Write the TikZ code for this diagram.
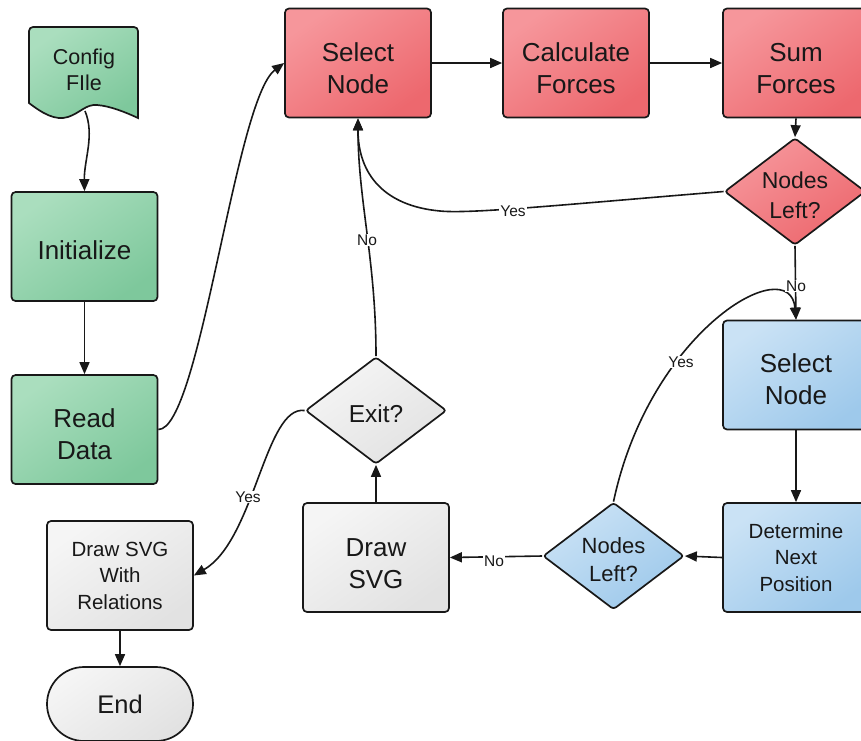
\documentclass[tikz,border=0pt]{standalone}
\usepackage{fontspec}
\setmainfont{Liberation Sans}
\usetikzlibrary{arrows.meta,shapes.geometric}

\definecolor{grnA}{RGB}{170,222,190}
\definecolor{grnB}{RGB}{126,200,156}
\definecolor{redA}{RGB}{246,150,155}
\definecolor{redB}{RGB}{237,104,110}
\definecolor{bluA}{RGB}{202,226,245}
\definecolor{bluB}{RGB}{158,201,235}
\definecolor{gryA}{RGB}{245,245,245}
\definecolor{gryB}{RGB}{226,226,226}
\definecolor{ink}{RGB}{24,24,24}

\tikzset{
  greenfill/.style={top color=grnA, bottom color=grnB, shading angle=35},
  redfill/.style={top color=redA, bottom color=redB, shading angle=35},
  bluefill/.style={top color=bluA, bottom color=bluB, shading angle=35},
  grayfill/.style={top color=gryA, bottom color=gryB, shading angle=35},
  stepbox/.style={draw=ink, line width=1.7pt, rounded corners=4pt,
    minimum width=146pt, minimum height=109pt, inner sep=0pt,
    align=center, text=ink},
  twoline/.style={font=\fontsize{26}{32}\selectfont, text height=61pt, text depth=0pt},
  threeline/.style={font=\fontsize{20.5}{26.5}\selectfont},
  decision/.style={draw=ink, line width=1.7pt, diamond, rounded corners=3pt,
    aspect=1.32, minimum width=141pt, minimum height=107pt, inner sep=0pt,
    align=center, text=ink, text depth=0pt},
  terminal/.style={draw=ink, line width=1.7pt, rounded corners=37pt,
    minimum width=146pt, minimum height=74pt, inner sep=0pt, text=ink,
    font=\fontsize{25.5}{30}\selectfont},
  flow/.style={draw=ink, line width=1.6pt,
    -{Triangle[length=12pt,width=10pt]}},
  lbl/.style={fill=white, inner sep=1pt, text=ink,
    font=\fontsize{15.5}{16}\selectfont},
}

\begin{document}
\begin{tikzpicture}[x=1pt,y=-1pt]
\path[use as bounding box] (0,0) rectangle (861,740);
\clip (0,0) rectangle (861,740);

% configuration file (document shape)
\path[draw=ink, line width=1.7pt, greenfill]
  (138,118) [rounded corners=4pt] -- (138,27) -- (29,27) [sharp corners] -- (29,103)
  .. controls (42,113) and (55,121) .. (68,117)
  .. controls (80,113) and (86,104) .. (97,105)
  .. controls (110,106) and (125,112) .. (138,118) -- cycle;
\node[align=center, text=ink, font=\fontsize{21.5}{26}\selectfont] (cfg) at (84,70) {Config\\FIle};
\coordinate (cfgtail) at (85,111);

% setup column
\node[stepbox, greenfill, font=\fontsize{26}{32}\selectfont, text height=26.5pt, text depth=0pt] (init) at (84.5,246.5) {Initialize};
\node[stepbox, greenfill, twoline, text height=60pt] (read) at (84.5,429.5) {Read\\Data};

% force loop
\node[stepbox, redfill, twoline] (sel) at (358,63) {Select\\Node};
\node[stepbox, redfill, twoline] (calc) at (576,63) {Calculate\\Forces};
\node[stepbox, redfill, twoline] (sum) at (796,63) {Sum\\Forces};
\node[decision, redfill, font=\fontsize{23}{30}\selectfont, text height=53.5pt] (left1) at (795,191.5) {Nodes\\Left?};

% position loop
\node[stepbox, bluefill, twoline, text height=58pt] (sel2) at (796,375) {Select\\Node};
\node[stepbox, bluefill, threeline] (det) at (796,557.5) {Determine\\Next\\Position};
\node[decision, bluefill, font=\fontsize{22}{28}\selectfont, text height=51pt] (left2) at (613.5,556) {Nodes\\Left?};

% output
\node[stepbox, grayfill, twoline] (svg) at (376,557.5) {Draw\\SVG};
\node[decision, grayfill, font=\fontsize{24.5}{30}\selectfont, text height=23.5pt] (exit) at (376,410.5) {Exit?};
\node[stepbox, grayfill, threeline] (rel) at (120,575.5) {Draw SVG\\With\\Relations};
\node[terminal, grayfill] (end) at (120,704) {End};

% connectors
\draw[flow] (cfgtail) .. controls (95,135) and (84,160) .. (init.north);
\draw[flow] (init.south) -- (read.north);
\draw[flow] (read.east) .. controls (200,430) and (235,100) .. (sel.west);
\draw[flow] (sel.east) -- (calc.west);
\draw[flow] (calc.east) -- (sum.west);
\draw[flow] (sum.south) -- (left1.north);
\draw[flow] (left1.west) .. controls (560,205) and (470,214) .. (440,211)
  .. controls (385,206) and (358,175) .. (sel.south);
\draw[flow] (exit.north) .. controls (376,260) and (358,200) .. (sel.south);
\draw[flow] (left1.south) -- (sel2.north);
\draw[flow] (left2.north) .. controls (650,330) and (790,250) .. (sel2.north);
\draw[flow] (sel2.south) -- (det.north);
\draw[flow] (det.west) -- (left2.east);
\draw[flow] (left2.west) -- (svg.east);
\draw[flow] (svg.north) -- (exit.south);
\draw[flow] (exit.west) .. controls (265,405) and (255,540) .. (rel.east);
\draw[flow] (rel.south) -- (end.north);

% branch labels
\node[lbl] (yes1) at (513,211) {Yes};
\node[lbl] (no1) at (367,240) {No};
\node[lbl] (no2) at (796,286) {No};
\node[lbl] (yes2) at (681,362) {Yes};
\node[lbl] (no3) at (494,561) {No};
\node[lbl] (yes3) at (248,497) {Yes};
\end{tikzpicture}
\end{document}
